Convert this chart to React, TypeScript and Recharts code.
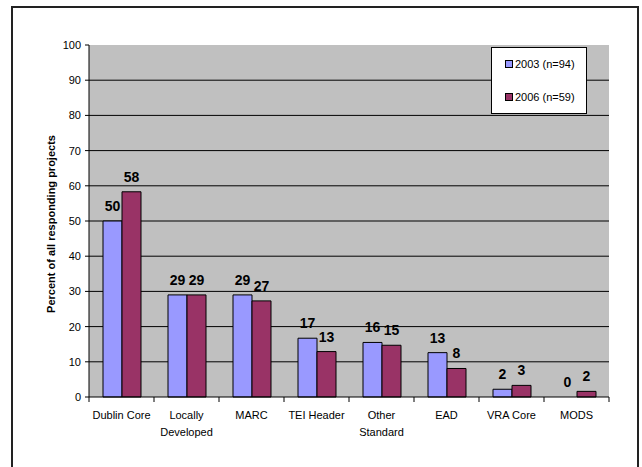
import React from 'react';
import { BarChart, Bar, XAxis, YAxis, CartesianGrid, LabelList } from 'recharts';

const categories = ['Dublin Core', 'Locally Developed', 'MARC', 'TEI Header', 'Other Standard', 'EAD', 'VRA Core', 'MODS'];
const tickLabels = [['Dublin Core'], ['Locally', 'Developed'], ['MARC'], ['TEI Header'], ['Other', 'Standard'], ['EAD'], ['VRA Core'], ['MODS']];
const values2003 = [50, 29, 29, 16.7, 15.5, 12.6, 2.2, 0];
const values2006 = [58.3, 29, 27.3, 12.9, 14.7, 8.1, 3.3, 1.6];
const yTicks = [0, 10, 20, 30, 40, 50, 60, 70, 80, 90, 100];
const gridValues = [10, 20, 30, 40, 50, 60, 70, 80, 90];
const seriesNames = ['2003 (n=94)', '2006 (n=59)'];

const data = categories.map((name, i) => ({ name, y2003: values2003[i], y2006: values2006[i] }));

const FONT = '"Liberation Sans", Arial, sans-serif';
const BLUE = '#9999ff';
const PLUM = '#993366';

const W = 642;
const H = 467;
const margin = { top: 45, right: 33, bottom: 30, left: 0 };
const Y_AXIS_W = 89;
const plotW = W - margin.right - Y_AXIS_W;
const band = plotW / categories.length;

const CategoryTick = (props: any) => {
  const { x, y, index } = props;
  const lines = tickLabels[index] || [];
  const left = x - band / 2;
  return (
    <g>
      <line x1={left} y1={y} x2={left} y2={y + 5} stroke="#000" />
      {index === categories.length - 1 && (
        <line x1={x + band / 2} y1={y} x2={x + band / 2} y2={y + 5} stroke="#000" />
      )}
      {lines.map((t, k) => (
        <text key={k} x={x} y={y + 22 + k * 17} textAnchor="middle" fontSize={11} fontFamily={FONT} fill="#000">
          {t}
        </text>
      ))}
    </g>
  );
};

const labelStyle = { fontSize: 14, fontWeight: 'bold' as const, fontFamily: FONT, fill: '#000' };

const ValueLabel = (props: any) => {
  const { x, y, width, value } = props;
  if (value === undefined || value === null || !value) return null;
  return (
    <text x={Number(x) + Number(width) / 2} y={Number(y) - 10} textAnchor="middle" {...labelStyle}>
      {String(Math.round(Number(value)))}
    </text>
  );
};

// 2006 label; also writes the 2003 "0" that recharts drops with its empty bar
const Label2006 = (props: any) => {
  const { x, y, width, height, value, index } = props;
  const cx = Number(x) + Number(width) / 2;
  const base = Number(y) + Number(height);
  return (
    <g>
      <text x={cx} y={Number(y) - 10} textAnchor="middle" {...labelStyle}>
        {String(Math.round(Number(value)))}
      </text>
      {values2003[index] === 0 && (
        <text x={cx - Number(width)} y={base - 10} textAnchor="middle" {...labelStyle}>
          0
        </text>
      )}
    </g>
  );
};

const YTitle = (props: any) => {
  const { viewBox } = props;
  const cx = viewBox.x + 52;
  const cy = viewBox.y + viewBox.height / 2 + 3;
  return (
    <text
      x={cx}
      y={cy}
      transform={`rotate(-90, ${cx}, ${cy})`}
      textAnchor="middle"
      dominantBaseline="middle"
      fontSize={11}
      fontWeight="bold"
      fontFamily={FONT}
      fill="#000"
    >
      Percent of all responding projects
    </text>
  );
};

export default function App() {
  return (
    <div style={{ position: 'absolute', left: 0, top: 0, width: W, height: H, background: '#fff', overflow: 'hidden' }}>
      <div style={{ position: 'absolute', left: 11, top: 6, width: 624, height: 480, border: '2px solid #222' }} />
      <BarChart width={W} height={H} data={data} margin={margin} barSize={19} barGap={0}>
        <CartesianGrid
          fill="#c0c0c0"
          fillOpacity={1}
          vertical={false}
          stroke="#000"
          horizontalValues={gridValues}
        />
        <XAxis
          dataKey="name"
          interval={0}
          height={40}
          axisLine={{ stroke: '#000' }}
          tickLine={false}
          tickSize={0}
          tickMargin={0}
          tick={<CategoryTick />}
        />
        <YAxis
          width={Y_AXIS_W}
          domain={[0, 100]}
          ticks={yTicks}
          interval={0}
          axisLine={{ stroke: '#000' }}
          tickLine={{ stroke: '#000' }}
          tickSize={4}
          tickMargin={4}
          tick={{ fontSize: 11, fontFamily: FONT, fill: '#000' }}
          label={<YTitle />}
        />
        <Bar dataKey="y2003" name={seriesNames[0]} fill={BLUE} stroke="#000" strokeWidth={1} isAnimationActive={false}>
          <LabelList dataKey="y2003" content={<ValueLabel />} />
        </Bar>
        <Bar dataKey="y2006" name={seriesNames[1]} fill={PLUM} stroke="#000" strokeWidth={1} isAnimationActive={false}>
          <LabelList dataKey="y2006" content={<Label2006 />} />
        </Bar>
      </BarChart>
      <div
        style={{
          position: 'absolute',
          left: 491,
          top: 47,
          width: 94,
          height: 65,
          background: '#fff',
          border: '1px solid #000',
          fontFamily: FONT,
          fontSize: 11,
          color: '#000',
        }}
      >
        {seriesNames.map((s, i) => (
          <div key={s} style={{ position: 'absolute', left: 13, top: 10 + i * 33, display: 'flex', alignItems: 'center', whiteSpace: 'nowrap' }}>
            <span style={{ display: 'inline-block', width: 6, height: 6, border: '1px solid #000', background: i === 0 ? BLUE : PLUM, marginRight: 2 }} />
            {s}
          </div>
        ))}
      </div>
    </div>
  );
}
